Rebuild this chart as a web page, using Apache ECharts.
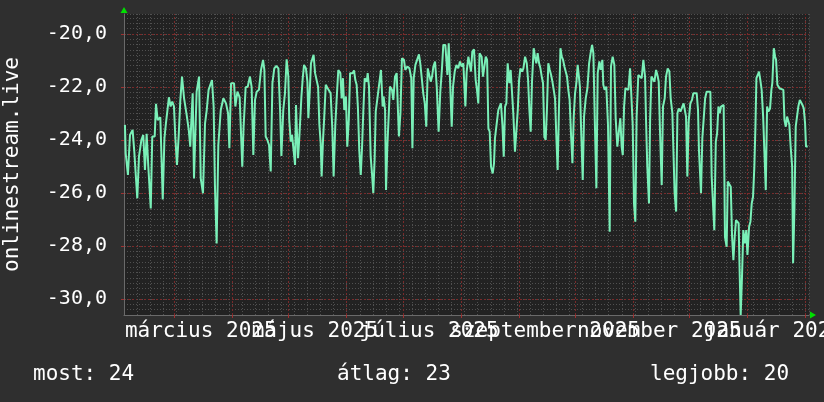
<!DOCTYPE html>
<html>
<head>
<meta charset="utf-8">
<script src="https://cdn.jsdelivr.net/npm/echarts@6/dist/echarts.min.js"></script>
<style>
  html, body { margin: 0; padding: 0; background: #2f2f2f; }
  #chart { width: 824px; height: 402px; }
</style>
</head>
<body>
<div id="chart"></div>
<script>
// day offset from 2025-02-02 00:00, temperature
const readings = [
  [0.5,-23.43],[0.9,-24.50],[2.1,-25.32],[3.2,-23.81],[4.6,-23.62],[5.5,-24.44],[6.2,-24.50],[7.1,-26.20],[8.0,-24.63],[9.3,-24.00],
  [10.3,-23.81],[11.2,-25.13],[12.1,-23.77],[13.0,-25.01],[14.3,-26.58],[15.1,-23.87],[16.4,-23.87],[17.1,-22.64],[18.0,-23.25],[19.4,-23.14],
  [20.7,-26.24],[21.6,-23.94],[22.4,-23.37],[24.0,-22.39],[24.9,-22.74],[25.8,-22.55],[26.7,-22.74],[27.4,-23.87],[28.3,-24.94],[29.2,-23.87],
  [30.1,-22.49],[31.0,-21.61],[32.1,-22.43],[33.5,-23.06],[34.6,-23.62],[35.4,-24.25],[36.0,-23.25],[36.7,-22.24],[37.4,-25.45],[38.8,-22.18],
  [40.1,-21.61],[41.0,-25.45],[42.2,-26.01],[43.3,-23.37],[44.2,-22.87],[45.2,-22.11],[47.0,-21.74],[47.9,-22.74],[48.6,-25.76],[49.5,-27.90],
  [50.4,-24.19],[51.7,-22.87],[53.1,-22.43],[54.5,-22.62],[55.6,-22.99],[56.3,-24.31],[57.2,-21.86],[58.8,-21.86],[59.5,-22.74],[60.6,-22.18],
  [61.8,-22.39],[62.5,-22.43],[63.2,-25.01],[63.9,-23.50],[65.0,-22.01],[66.1,-21.99],[67.3,-21.61],[68.2,-22.01],[69.1,-24.57],[70.0,-22.49],
  [70.9,-22.18],[72.1,-22.11],[73.2,-21.36],[74.3,-20.98],[75.0,-21.36],[75.7,-23.87],[76.6,-24.00],[77.5,-24.19],[78.4,-25.19],[79.3,-21.86],
  [80.3,-21.30],[81.4,-21.21],[82.5,-21.30],[83.4,-22.87],[84.1,-24.60],[85.1,-22.87],[86.0,-22.24],[86.9,-20.96],[87.8,-21.61],[88.3,-23.25],
  [89.1,-24.06],[89.8,-23.81],[90.7,-23.87],[91.4,-24.94],[91.9,-22.68],[92.4,-23.69],[93.0,-24.69],[93.7,-23.87],[94.8,-22.36],[95.5,-21.67],
  [96.2,-21.17],[97.2,-21.30],[98.0,-21.80],[98.5,-23.18],[99.2,-22.24],[99.9,-21.11],[100.6,-21.17],[101.3,-20.79],[102.1,-21.48],[102.9,-21.48],
  [103.7,-21.99],[104.4,-23.43],[105.1,-24.13],[105.6,-25.38],[106.3,-24.06],[107.0,-23.12],[107.8,-21.92],[108.8,-22.05],[109.5,-22.11],[110.4,-22.24],
  [111.3,-23.56],[112.0,-25.38],[112.9,-23.43],[113.6,-22.49],[114.5,-21.36],[115.6,-21.48],[116.3,-22.43],[117.0,-21.67],[117.7,-22.87],[118.6,-22.36],
  [119.3,-24.25],[120.1,-23.25],[120.8,-21.48],[121.3,-21.42],[122.2,-21.48],[122.9,-21.38],[123.6,-21.74],[124.3,-21.92],[125.0,-22.81],[125.7,-24.38],
  [126.5,-25.32],[127.2,-24.25],[127.9,-22.87],[128.6,-21.67],[129.7,-21.80],[130.2,-21.48],[130.9,-21.99],[131.8,-24.63],[132.5,-25.26],[133.2,-26.01],
  [133.9,-24.75],[134.5,-22.93],[135.4,-22.43],[136.4,-22.43],[137.3,-21.36],[138.2,-22.74],[138.7,-22.36],[139.5,-22.87],[140.0,-25.89],[140.7,-24.25],
  [141.4,-23.12],[142.1,-21.99],[143.2,-22.11],[143.9,-22.49],[144.8,-21.61],[145.7,-21.48],[146.4,-22.93],[146.9,-23.87],[147.7,-22.99],[148.5,-20.92],
  [149.6,-20.98],[150.3,-21.36],[151.4,-21.23],[152.5,-21.30],[153.5,-21.67],[154.1,-24.31],[154.8,-21.67],[155.7,-21.17],[156.6,-20.98],[157.6,-20.77],
  [158.3,-21.11],[159.2,-21.74],[159.9,-22.24],[160.7,-22.62],[161.5,-23.50],[162.3,-21.30],[163.2,-21.23],[163.9,-21.80],[164.6,-21.61],[165.3,-21.23],
  [166.2,-21.04],[167.1,-21.99],[168.1,-23.69],[169.0,-22.18],[169.9,-21.30],[170.6,-20.42],[171.7,-20.42],[172.8,-21.55],[173.5,-20.35],[174.4,-20.35],
  [175.1,-23.50],[175.8,-21.99],[176.7,-21.42],[177.6,-21.17],[178.6,-21.30],[179.5,-21.04],[180.4,-21.23],[181.3,-21.11],[182.4,-22.74],[183.1,-21.42],
  [184.0,-20.86],[184.7,-20.79],[185.4,-21.42],[186.1,-20.67],[187.0,-20.58],[187.9,-21.74],[188.6,-22.11],[189.3,-22.62],[190.0,-20.73],[191.1,-20.86],
  [191.8,-21.61],[192.5,-21.67],[193.3,-20.86],[194.0,-20.98],[194.7,-23.56],[195.4,-23.69],[196.1,-25.01],[197.0,-25.26],[197.7,-24.88],[198.2,-23.94],
  [199.1,-24.00],[200.0,-22.87],[200.7,-22.74],[201.4,-22.62],[202.2,-23.43],[202.9,-24.63],[203.6,-22.74],[204.3,-22.62],[205.0,-21.11],[205.9,-21.86],
  [206.6,-21.36],[207.3,-21.36],[208.0,-22.99],[208.9,-24.44],[209.8,-24.50],[210.4,-22.87],[211.1,-21.74],[211.8,-21.30],[212.7,-21.42],[213.4,-21.30],
  [214.3,-20.86],[215.2,-21.11],[215.9,-21.74],[216.6,-22.87],[217.3,-23.69],[218.0,-21.80],[218.9,-20.54],[219.6,-20.86],[220.3,-21.11],[221.0,-20.73],
  [221.8,-21.11],[222.5,-21.30],[223.2,-21.61],[223.9,-21.86],[224.6,-23.87],[225.3,-24.00],[226.0,-22.81],[226.7,-21.11],[227.5,-21.36],[228.2,-21.55],
  [228.9,-21.80],[229.6,-22.11],[230.3,-22.43],[231.0,-23.87],[231.7,-25.13],[232.4,-22.81],[233.2,-20.54],[233.9,-20.86],[234.6,-20.98],[235.3,-21.23],
  [236.0,-21.42],[236.7,-21.61],[237.4,-22.11],[238.1,-22.49],[238.9,-23.87],[239.6,-24.88],[240.3,-23.12],[241.0,-22.24],[241.7,-21.86],[242.4,-21.17],
  [243.1,-21.23],[243.6,-21.99],[244.2,-23.50],[245.1,-25.51],[245.8,-23.12],[246.7,-22.43],[247.6,-22.05],[248.5,-21.11],[249.3,-20.73],[250.1,-20.42],
  [250.8,-20.73],[251.5,-23.12],[252.4,-25.82],[253.1,-21.48],[254.0,-21.04],[254.7,-21.36],[255.6,-20.98],[256.1,-21.92],[256.8,-22.11],[257.7,-21.99],
  [258.6,-23.43],[259.5,-27.46],[260.2,-21.23],[261.1,-20.86],[262.0,-21.17],[262.7,-23.18],[263.6,-24.25],[264.5,-23.62],[265.2,-23.18],[265.9,-24.25],
  [266.5,-24.57],[267.2,-22.74],[267.9,-22.05],[268.6,-22.11],[269.5,-22.11],[270.4,-21.30],[271.1,-22.36],[271.8,-23.43],[272.5,-26.39],[273.2,-27.08],
  [273.9,-23.12],[274.8,-21.55],[275.7,-21.61],[276.6,-21.67],[277.5,-20.98],[278.4,-21.61],[278.9,-23.18],[279.6,-25.01],[280.5,-26.39],[281.1,-23.25],
  [281.8,-21.61],[282.7,-21.55],[283.4,-21.80],[284.3,-21.36],[285.0,-21.55],[285.7,-21.80],[286.4,-23.69],[287.3,-25.70],[288.0,-22.74],[288.9,-22.43],
  [289.6,-21.61],[290.5,-21.30],[291.4,-21.42],[292.1,-22.43],[293.0,-22.99],[293.5,-24.25],[294.2,-26.01],[295.0,-26.70],[295.7,-22.99],[296.4,-22.81],
  [297.3,-22.93],[298.2,-22.87],[299.0,-22.62],[299.6,-22.55],[300.3,-23.12],[301.0,-25.38],[301.7,-23.31],[302.6,-22.62],[303.5,-22.49],[304.2,-22.24],
  [305.1,-22.18],[306.0,-22.24],[306.7,-22.87],[307.2,-24.38],[307.8,-24.44],[308.3,-26.01],[309.0,-23.94],[309.7,-23.87],[310.5,-22.43],[311.3,-22.18],
  [312.2,-22.14],[313.3,-22.18],[314.0,-25.38],[314.7,-25.38],[315.4,-27.40],[316.2,-24.06],[316.9,-23.75],[317.6,-22.74],[318.3,-22.99],[319.0,-22.74],
  [319.7,-22.68],[320.4,-22.68],[321.1,-27.65],[322.0,-28.03],[322.6,-25.57],[323.5,-25.64],[324.2,-25.76],[324.9,-27.65],[325.6,-28.53],[326.3,-27.65],
  [327.0,-27.02],[327.7,-26.96],[328.4,-27.14],[329.0,-29.16],[329.5,-30.60],[330.2,-29.16],[330.9,-27.40],[331.7,-27.90],[332.5,-27.40],[333.1,-28.34],
  [334.0,-27.27],[334.7,-27.08],[335.4,-26.39],[336.1,-26.14],[336.8,-25.01],[337.4,-23.43],[337.9,-21.67],[338.6,-21.55],[339.3,-21.42],[340.0,-21.74],
  [340.7,-22.11],[341.5,-23.12],[342.2,-24.50],[342.9,-25.89],[343.6,-22.74],[344.3,-22.93],[345.2,-22.81],[345.9,-22.11],[346.4,-21.86],[347.2,-20.54],
  [347.9,-20.86],[348.4,-20.98],[349.1,-21.92],[350.2,-22.05],[351.1,-22.11],[352.3,-22.11],[352.9,-23.25],[353.6,-23.50],[354.3,-23.12],[354.8,-23.25],
  [355.5,-23.43],[356.2,-24.25],[357.0,-25.01],[357.5,-28.65],[358.2,-26.64],[358.9,-23.50],[359.6,-23.43],[360.3,-22.74],[361.1,-22.49],[361.8,-22.47],
  [362.5,-22.68],[363.2,-22.81],[363.9,-23.37],[364.4,-24.25],[365.3,-24.25]
];

// month starts (day offsets) for the red grid; labels every 2 months, split
// over two axes so overlapping neighbours are all kept, as in the original
const monthStarts = [27, 58, 88, 119, 149, 180, 211, 241, 272, 302, 333, 364];
const labelDaysA = [41, 163, 286];
const labelNamesA = ['március 2025', 'július 2025', 'november 2025'];
const labelDaysB = [102, 225, 347];
const labelNamesB = ['május 2025', 'szeptember 2025', 'január 2026'];
const yTicks = [-30, -28, -26, -24, -22, -20];
const legendTexts = ['most: 24', 'átlag: 23', 'legjobb: 20'];

const FONT = 'DejaVu Sans Mono';
const X_MIN = 0, X_MAX = 366;
const Y_MIN = -30.6, Y_MAX = -19.25;
const RED = '#7a2a2a';

let chart = echarts.init(document.getElementById('chart'));

function hiddenAxisParts() {
  return {
    axisLabel: { show: false },
    axisTick: { show: false },
    axisLine: { show: false }
  };
}

function labelAxis(days, names) {
  return {
    type: 'value', position: 'bottom', min: X_MIN, max: X_MAX,
    axisLine: { show: false },
    axisTick: { show: false },
    splitLine: { show: false },
    axisLabel: {
      customValues: days,
      showMinLabel: true, showMaxLabel: true, hideOverlap: false,
      color: '#ffffff', fontFamily: FONT, fontSize: 21, margin: 6,
      formatter: v => names[days.indexOf(Math.round(v))] || ''
    }
  };
}

let options = {
  backgroundColor: '#2f2f2f',
  animation: false,
  title: legendTexts.map((t, i) => ({
    text: t,
    left: [33, 337, 650][i],
    top: 364,
    padding: 0,
    textStyle: { color: '#ffffff', fontFamily: FONT, fontSize: 21, fontWeight: 'normal' }
  })),
  grid: {
    left: 124, top: 14, width: 685, height: 301,
    outerBoundsMode: 'none', containLabel: false,
    show: true, backgroundColor: '#222222', borderWidth: 0
  },
  xAxis: [
    // weekly dotted grid
    Object.assign({
      type: 'value', position: 'bottom', min: X_MIN, max: X_MAX, interval: 7,
      splitLine: { show: true, lineStyle: { color: '#505050', width: 1, type: [1, 2] } }
    }, hiddenAxisParts()),
    // axis line with month ticks (the data axis)
    {
      type: 'value', position: 'bottom', min: X_MIN, max: X_MAX,
      axisLine: { show: true, lineStyle: { color: '#6a6a6a', width: 1 } },
      axisTick: { show: true, customValues: monthStarts, length: 3, lineStyle: { color: '#a03030' } },
      axisLabel: { show: false },
      splitLine: { show: false }
    },
    labelAxis(labelDaysA, labelNamesA),
    labelAxis(labelDaysB, labelNamesB),
    // green arrow on the time axis
    {
      type: 'value', position: 'bottom', min: X_MIN, max: X_MAX,
      axisLine: { show: true, symbol: ['none', 'triangle'], symbolSize: [7, 6], symbolOffset: [0, 4],
                  lineStyle: { color: '#00e000', width: 0.01 } },
      axisTick: { show: false }, axisLabel: { show: false }, splitLine: { show: false }
    }
  ],
  yAxis: [
    Object.assign({
      type: 'value', position: 'left', min: Y_MIN, max: Y_MAX, interval: 0.2,
      splitLine: { show: true, lineStyle: { color: '#505050', width: 1, type: [1, 2] } }
    }, hiddenAxisParts()),
    {
      type: 'value', position: 'left', min: Y_MIN, max: Y_MAX,
      name: 'onlinestream.live', nameLocation: 'middle', nameGap: 101,
      nameTextStyle: { color: '#ffffff', fontFamily: FONT, fontSize: 21 },
      axisLine: { show: true, lineStyle: { color: '#6a6a6a', width: 1 } },
      axisTick: { show: true, customValues: yTicks, length: 3, lineStyle: { color: '#a03030' } },
      axisLabel: {
        customValues: yTicks,
        color: '#ffffff', fontFamily: FONT, fontSize: 20, margin: 17,
        formatter: v => v.toFixed(1).replace('.', ',')
      },
      splitLine: { show: true, lineStyle: { color: RED, width: 1, type: [2, 2] } }
    },
    {
      type: 'value', position: 'left', min: Y_MIN, max: Y_MAX,
      axisLine: { show: true, symbol: ['none', 'triangle'], symbolSize: [7, 6], symbolOffset: [0, 4],
                  lineStyle: { color: '#00e000', width: 0.01 } },
      axisTick: { show: false }, axisLabel: { show: false }, splitLine: { show: false }
    }
  ],
  series: [
    {
      // red month grid, drawn under the data line
      type: 'line',
      xAxisIndex: 1,
      yAxisIndex: 1,
      data: [],
      z: 1,
      markLine: {
        silent: true,
        symbol: ['none', 'none'],
        label: { show: false },
        lineStyle: { color: RED, width: 1, type: [2, 2] },
        data: monthStarts.map(d => ({ xAxis: d }))
      }
    },
    {
      type: 'line',
      xAxisIndex: 1,
      yAxisIndex: 1,
      data: readings,
      showSymbol: false,
      lineStyle: { color: '#7af0b8', width: 2 },
      z: 5
    }
  ]
};
chart.setOption(options);
</script>
</body>
</html>
